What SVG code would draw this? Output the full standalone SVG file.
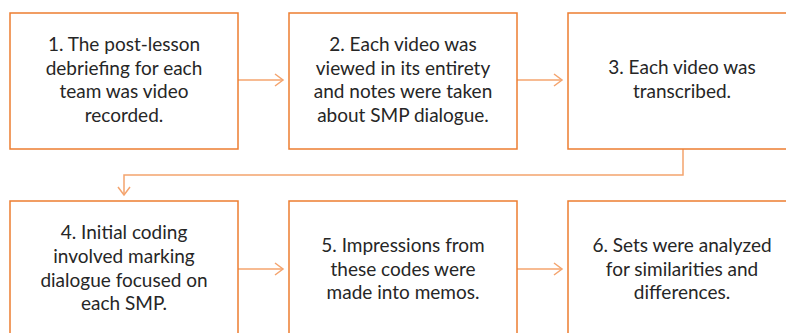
<svg xmlns="http://www.w3.org/2000/svg" width="786" height="333" viewBox="0 0 786 333">
<style>
.box{fill:#fff;stroke:#ED7D31;stroke-width:1.5}
.t{font-family:Lato,"Liberation Sans",sans-serif;font-size:19px;fill:#262626;text-anchor:middle}
.c{fill:none;stroke:#F4A46E;stroke-width:1.5}
</style>
<defs>
<marker id="ah" markerWidth="12" markerHeight="14" refX="10" refY="7" orient="auto" markerUnits="userSpaceOnUse">
<path d="M2,1 L10,7 L2,13" fill="none" stroke="#F4A46E" stroke-width="1.5"/>
</marker>
</defs>
<rect width="786" height="333" fill="#fff"/>
<g id="connectors">
<line class="c" x1="238" y1="80" x2="283" y2="80" marker-end="url(#ah)"/>
<line class="c" x1="517" y1="80" x2="562" y2="80" marker-end="url(#ah)"/>
<polyline class="c" points="683,149 683,175 124,175 124,195" marker-end="url(#ah)"/>
<line class="c" x1="238" y1="269" x2="283" y2="269" marker-end="url(#ah)"/>
<line class="c" x1="517" y1="269" x2="562" y2="269" marker-end="url(#ah)"/>
</g>
<g id="node1">
<rect class="box" x="10" y="13" width="228" height="136"/>
<text class="t" x="124" y="51">1. The post-lesson</text>
<text class="t" x="124" y="75">debriefing for each</text>
<text class="t" x="124" y="98">team was video</text>
<text class="t" x="124" y="122">recorded.</text>
</g>
<g id="node2">
<rect class="box" x="289" y="13" width="228" height="136"/>
<text class="t" x="403" y="51">2. Each video was</text>
<text class="t" x="403" y="75">viewed in its entirety</text>
<text class="t" x="403" y="98">and notes were taken</text>
<text class="t" x="403" y="122">about SMP dialogue.</text>
</g>
<g id="node3">
<rect class="box" x="568" y="13" width="228" height="136"/>
<text class="t" x="682" y="74">3. Each video was</text>
<text class="t" x="682" y="98">transcribed.</text>
</g>
<g id="node4">
<rect class="box" x="10" y="201" width="228" height="140"/>
<text class="t" x="124" y="239">4. Initial coding</text>
<text class="t" x="124" y="263">involved marking</text>
<text class="t" x="124" y="287">dialogue focused on</text>
<text class="t" x="124" y="310">each SMP.</text>
</g>
<g id="node5">
<rect class="box" x="289" y="201" width="228" height="140"/>
<text class="t" x="403" y="252">5. Impressions from</text>
<text class="t" x="403" y="276">these codes were</text>
<text class="t" x="403" y="299">made into memos.</text>
</g>
<g id="node6">
<rect class="box" x="568" y="201" width="228" height="140"/>
<text class="t" x="682" y="252">6. Sets were analyzed</text>
<text class="t" x="682" y="276">for similarities and</text>
<text class="t" x="682" y="299">differences.</text>
</g>
</svg>
